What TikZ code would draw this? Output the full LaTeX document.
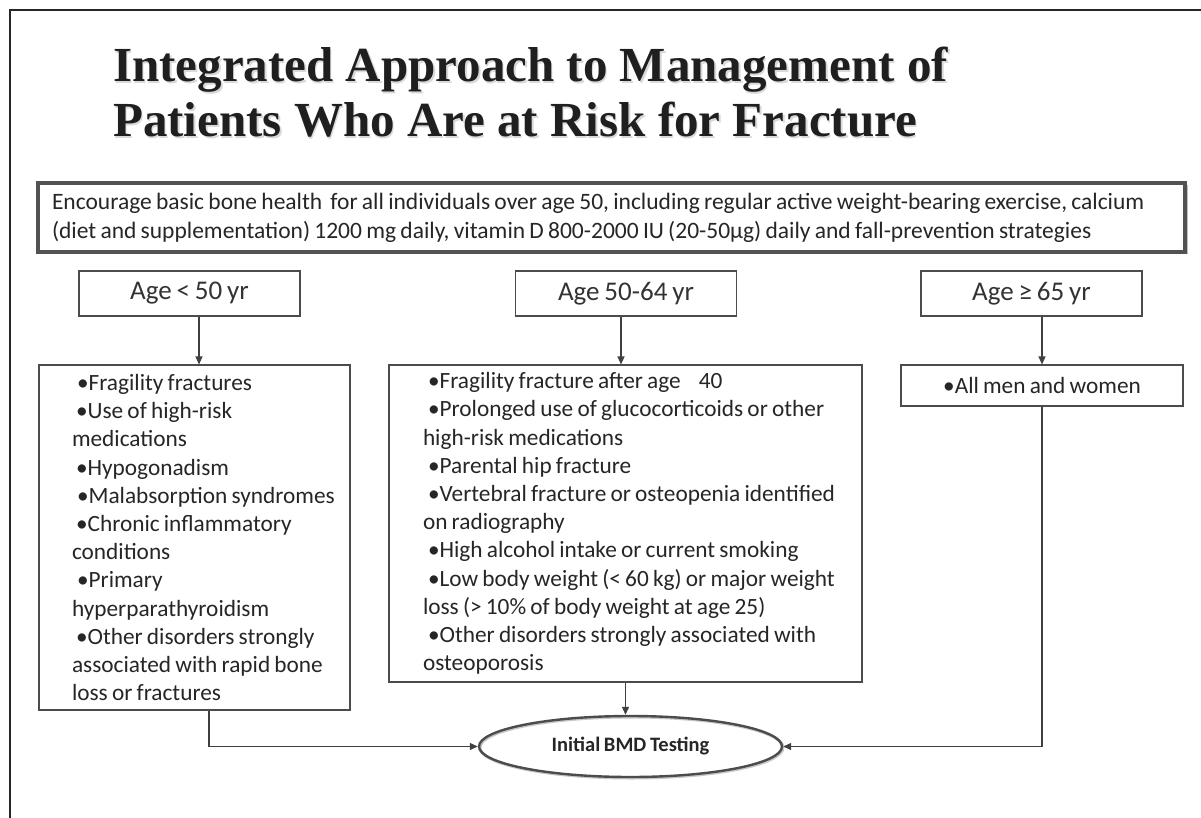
\documentclass[tikz,border=0pt]{standalone}
\usepackage{fontspec}
\setmainfont{Carlito}[WordSpace=0.8]
\newfontfamily\titlefont{Liberation Serif}
\usetikzlibrary{shapes.geometric,arrows.meta}

% left-indented block of manually broken lines
\newcommand{\indentedlines}[3]{\begin{minipage}{#1}\raggedright\leftskip=#2\relax #3\end{minipage}}

\begin{document}
\begin{tikzpicture}[x=1pt,y=-1pt,
  conn/.style={draw=black!75, line width=1.2pt},
  arr/.style={conn, -{Triangle[length=8pt,width=7pt]}},
  titletext/.style={anchor=base west, inner sep=0pt, font=\titlefont\bfseries\fontsize{49}{55}\selectfont},
  agebox/.style={draw=black!70, line width=1.1pt, minimum width=221pt, minimum height=45pt,
    inner sep=0pt, font=\fontsize{27}{30}\selectfont, text=black!80},
  listbox/.style={draw=black!70, line width=1.1pt, inner sep=0pt,
    font=\fontsize{23.3}{28.2}\selectfont, text=black!85},
]
\useasboundingbox (0,0) rectangle (1201,818);
\fill[white] (0,0) rectangle (1201,818);

% page frame (top and left edges)
\draw[line width=2pt, black!85] (10,818) -- (10,10) -- (1201,10);

% title with a soft shadow
\node[titletext, text=black!15] (t1s) at (114.5,83.5) {Integrated Approach to Management of};
\node[titletext, text=black!15] (t2s) at (114.5,138.5) {Patients Who Are at Risk for Fracture};
\node[titletext, text=black!88] (t1) at (113,82) {Integrated Approach to Management of};
\node[titletext, text=black!88] (t2) at (113,137) {Patients Who Are at Risk for Fracture};

% general recommendation box
\fill[black!25] (40.5,185.5) rectangle (1187.5,254.5);
\node[draw=black!68, line width=3.5pt, fill=white, minimum width=1147pt, minimum height=69pt,
  inner sep=0pt, font=\fontsize{23.5}{29}\selectfont, text=black!85]
  (intro) at (611.5,217.5)
  {\indentedlines{1147pt}{14pt}{Encourage basic bone health\, for all individuals over age 50, including regular active weight-bearing exercise, calcium\\
   (diet and supplementation) 1200 mg daily, vitamin D 800-2000 IU (20-50µg) daily and fall-prevention strategies}};

% age groups
\node[agebox] (age1) at (189.5,293.5) {Age < 50 yr};
\node[agebox] (age2) at (626,293.5) {Age 50-64 yr};
\node[agebox] (age3) at (1031.5,293.5) {Age ≥ 65 yr};

% risk factor lists
\node[listbox, minimum width=311pt, minimum height=345pt] (list1) at (194.5,537.5)
  {\indentedlines{311pt}{33pt}{%
   \hspace*{5pt}•Fragility fractures\\
   \hspace*{4pt}•Use of high-risk\\
   medications\\
   \hspace*{4pt}•Hypogonadism\\
   \hspace*{5pt}•Malabsorption syndromes\\
   \hspace*{4pt}•Chronic inflammatory\\
   conditions\\
   \hspace*{5pt}•Primary\\
   hyperparathyroidism\\
   \hspace*{4pt}•Other disorders strongly\\
   associated with rapid bone\\
   loss or fractures}};

\node[listbox, minimum width=473pt, minimum height=317pt] (list2) at (625.5,523.5)
  {\indentedlines{473pt}{34pt}{%
   \hspace*{5pt}•Fragility fracture after age\hspace{18pt}40\\
   \hspace*{5pt}•Prolonged use of glucocorticoids or other\\
   high-risk medications\\
   \hspace*{5pt}•Parental hip fracture\\
   \hspace*{5pt}•Vertebral fracture or osteopenia identified\\
   on radiography\\
   \hspace*{5pt}•High alcohol intake or current smoking\\
   \hspace*{5pt}•Low body weight (< 60 kg) or major weight\\
   loss (> 10\% of body weight at age 25)\\
   \hspace*{5pt}•Other disorders strongly associated with\\
   osteoporosis}};

\node[listbox, minimum width=282pt, minimum height=41pt] (list3) at (1042,385.5) {•All men and women};

% outcome
\node[ellipse, draw=black!22, line width=3pt, minimum width=303pt, minimum height=61pt, inner sep=0pt]
  (bmds) at (631.5,747.5) {};
\node[ellipse, draw=black!70, line width=2.4pt, minimum width=303pt, minimum height=61pt, inner sep=0pt,
  font=\bfseries\fontsize{20.5}{23}\selectfont, text=black!85] (bmd) at (630.5,746.5) {Initial BMD Testing};

% connectors
\draw[arr] ([xshift=9.5pt]age1.south) -- ([xshift=9.5pt]age1.south |- list1.north);
\draw[arr] ([xshift=-5pt]age2.south) -- ([xshift=-5pt]age2.south |- list2.north);
\draw[arr] (age3.south -| list3.north) -- (list3.north);
\draw[arr] ([xshift=14.5pt]list1.south) |- (bmd.west);
\draw[arr] (list2.south) -- (list2.south |- bmd.north);
\draw[arr] (list3.south) |- (bmd.east);
\end{tikzpicture}
\end{document}
